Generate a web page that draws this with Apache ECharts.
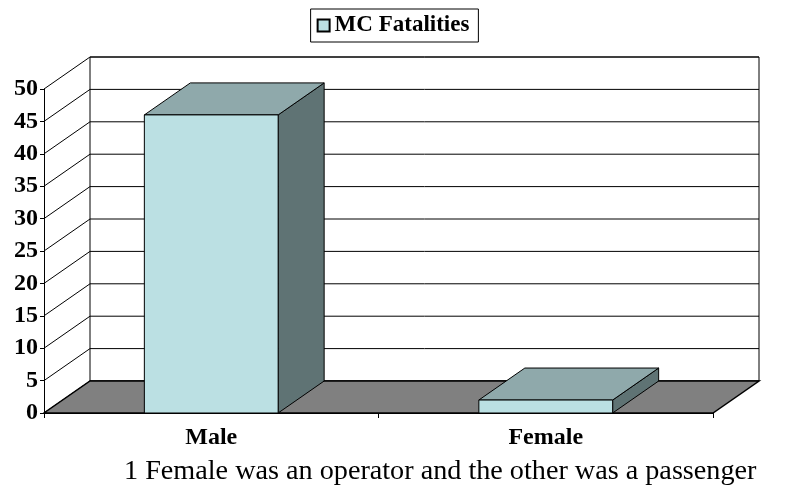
<!DOCTYPE html>
<html>
<head>
<meta charset="utf-8">
<script src="https://cdn.jsdelivr.net/npm/echarts@6/dist/echarts.min.js"></script>
<style>
html,body{margin:0;padding:0;background:#fff;}
#chart{width:786px;height:497px;}
</style>
</head>
<body>
<div id="chart"></div>
<script>
// ---- data ----
const categories = ['Male', 'Female'];
const fatalities = [46, 2];
const seriesName = 'MC Fatalities';
const yMin = 0, yMax = 50, yStep = 5;
const caption = '1 Female was an operator and the other was a passenger';

// ---- style constants ----
const DX = 46, DY = -32;          // 3D depth offset
const FONT = "'Liberation Serif','Times New Roman',serif";
const C_FRONT = '#BBE0E3', C_TOP = '#8FA9AB', C_SIDE = '#5F7374', C_FLOOR = '#808080';

const chart = echarts.init(document.getElementById('chart'), null, {renderer: 'canvas'});

function renderWalls(params, api) {
  const bw = api.size([1, 0])[0];
  const left = api.coord([0, yMin])[0] - bw / 2;
  const right = left + bw * categories.length;
  const y0 = api.coord([0, yMin])[1];
  const yTop = api.coord([0, yMax])[1];
  const children = [];
  children.push({type: 'rect', shape: {x: left + DX, y: yTop + DY, width: right - left, height: y0 - yTop},
    style: {fill: '#fff', stroke: '#000', lineWidth: 1}});
  for (let v = yMin; v <= yMax; v += yStep) {
    const y = api.coord([0, v])[1];
    children.push({type: 'polyline', shape: {points: [[left, y], [left + DX, y + DY], [right + DX, y + DY]]},
      style: {fill: null, stroke: '#000', lineWidth: 1}});
  }
  children.push({type: 'polygon', shape: {points: [[left, y0], [right, y0], [right + DX, y0 + DY], [left + DX, y0 + DY]]},
    style: {fill: C_FLOOR, stroke: '#000', lineWidth: 1.5}});
  return {type: 'group', children: children};
}

function renderBar(params, api) {
  const i = api.value(0), v = api.value(1);
  const base = api.coord([i, yMin]);
  const top = api.coord([i, v]);
  const w = api.size([1, 0])[0] * 0.4;
  const x1 = base[0] - w / 2, x2 = base[0] + w / 2;
  const y0 = base[1], ty = top[1];
  return {type: 'group', children: [
    {type: 'polygon', shape: {points: [[x2, ty], [x2, y0], [x2 + DX, y0 + DY], [x2 + DX, ty + DY]]},
      style: {fill: C_SIDE, stroke: '#000', lineWidth: 1}},
    {type: 'polygon', shape: {points: [[x1, ty], [x2, ty], [x2 + DX, ty + DY], [x1 + DX, ty + DY]]},
      style: {fill: C_TOP, stroke: '#000', lineWidth: 1}},
    {type: 'rect', shape: {x: x1, y: ty, width: w, height: y0 - ty},
      style: {fill: C_FRONT, stroke: '#000', lineWidth: 1}}
  ]};
}

chart.setOption({
  animation: false,
  backgroundColor: '#fff',
  title: {
    text: caption, left: 119, top: 453,
    textStyle: {fontFamily: FONT, fontWeight: 'normal', fontSize: 28.2, color: '#000'}
  },
  legend: {
    data: [seriesName], left: 'center', top: 9,
    borderColor: '#000', borderWidth: 1, padding: [5, 9, 5, 6],
    itemWidth: 12, itemHeight: 12, itemGap: 5, icon: 'rect',
    textStyle: {fontFamily: FONT, fontWeight: 'bold', fontSize: 23, color: '#000'}
  },
  grid: {left: 44, right: 73, top: 89, bottom: 84, containLabel: false},
  xAxis: {
    type: 'category', data: categories,
    axisLine: {show: true, lineStyle: {color: '#000'}},
    axisTick: {show: true, length: 5, lineStyle: {color: '#000'}},
    axisLabel: {fontFamily: FONT, fontWeight: 'bold', fontSize: 24, color: '#000', margin: 13},
    splitLine: {show: false}
  },
  yAxis: {
    type: 'value', min: yMin, max: yMax, interval: yStep,
    axisLine: {show: true, lineStyle: {color: '#000'}},
    axisTick: {show: true, length: 4, lineStyle: {color: '#000'}},
    axisLabel: {fontFamily: FONT, fontWeight: 'bold', fontSize: 24, color: '#000', margin: 6},
    splitLine: {show: false}
  },
  series: [
    {name: 'walls', type: 'custom', renderItem: renderWalls, data: [[0, 0]], silent: true, z: 1,
      encode: {x: 0, y: 1}},
    {name: seriesName, type: 'custom', renderItem: renderBar, z: 3,
      itemStyle: {color: C_FRONT, borderColor: '#000', borderWidth: 1},
      data: fatalities.map((v, i) => [i, v]), encode: {x: 0, y: 1}}
  ]
});
</script>
</body>
</html>
